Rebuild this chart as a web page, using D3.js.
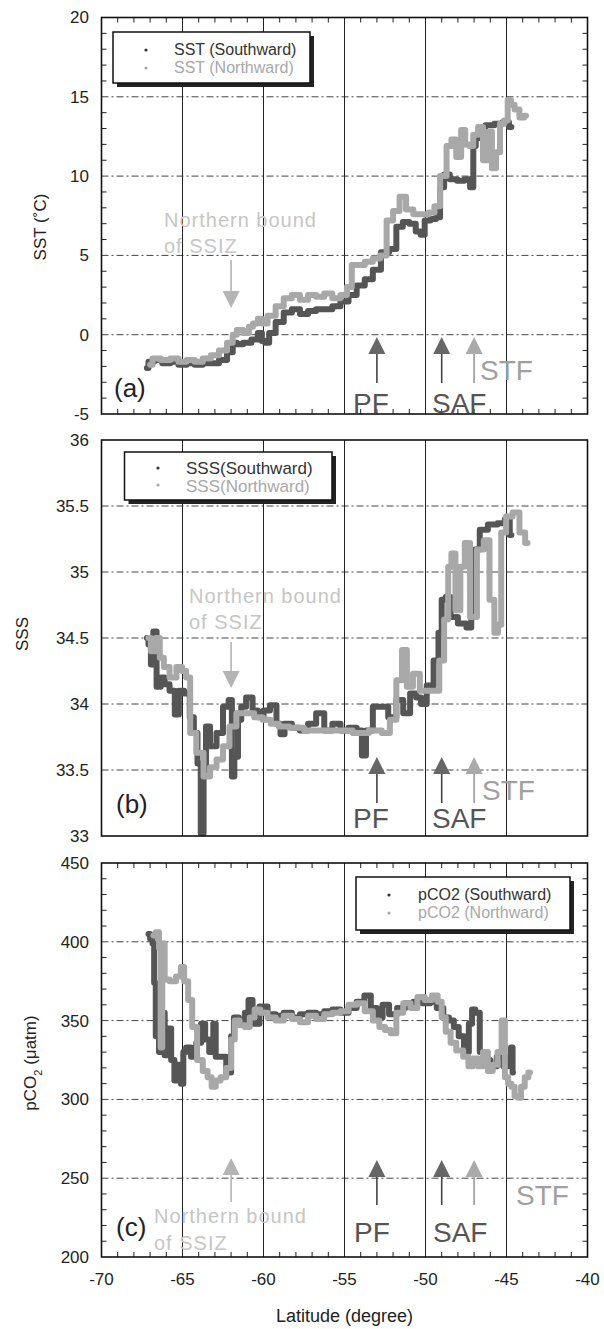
<!DOCTYPE html>
<html>
<head>
<meta charset="utf-8">
<script src="https://cdn.jsdelivr.net/npm/d3@7"></script>
<style>
  body { margin: 0; background: #fff; }
  svg text { font-family: "Liberation Sans", Arial, sans-serif; }
</style>
</head>
<body>
<div id="chart"></div>
<script>
// --- data ---
const latTicks = [-70, -65, -60, -55, -50, -45, -40];
const sstTicks = [-5, 0, 5, 10, 15, 20];
const sssTicks = [33, 33.5, 34, 34.5, 35, 35.5, 36];
const pco2Ticks = [200, 250, 300, 350, 400, 450];

const sstSouth = [[-67.2,-2.1],[-67.0,-1.7],[-66.5,-1.6],[-66.0,-1.8],[-65.5,-1.7],[-65.0,-1.9],[-64.5,-1.8],[-64.0,-1.9],[-63.5,-1.8],[-63.0,-1.8],[-62.5,-1.6],[-62.0,-1.1],[-61.8,-0.5],[-61.5,-0.6],[-61.0,-0.5],[-60.5,-0.3],[-60.2,0.1],[-60.0,-0.4],[-59.8,-0.5],[-59.5,0.1],[-59.0,0.8],[-58.5,1.4],[-58.0,1.6],[-57.5,1.3],[-57.0,1.5],[-56.5,1.6],[-56.0,1.6],[-55.5,1.8],[-55.0,2.1],[-54.5,2.5],[-54.0,3.1],[-53.5,3.5],[-53.0,4.1],[-52.5,5.2],[-52.0,5.4],[-51.6,6.8],[-51.2,7.1],[-50.8,7.0],[-50.4,6.5],[-50.2,6.3],[-49.9,7.2],[-49.5,7.3],[-49.2,7.4],[-49.0,9.3],[-48.7,10.1],[-48.3,9.8],[-47.8,9.7],[-47.4,9.8],[-47.1,9.3],[-47.0,11.9],[-46.8,12.4],[-46.6,13.1],[-46.0,13.2],[-45.5,13.3],[-45.0,13.4],[-44.7,13.1]];
const sstNorth = [[-67.0,-1.9],[-66.7,-1.5],[-66.0,-1.6],[-65.5,-1.5],[-65.0,-1.7],[-64.5,-1.6],[-64.0,-1.7],[-63.5,-1.5],[-63.0,-1.3],[-62.5,-1.0],[-62.0,-0.5],[-61.8,0.0],[-61.5,0.3],[-61.0,0.1],[-60.8,0.5],[-60.5,0.7],[-60.2,1.0],[-60.0,0.7],[-59.5,1.2],[-59.0,1.8],[-58.5,2.3],[-58.0,2.5],[-57.5,2.2],[-57.0,2.5],[-56.5,2.4],[-56.0,2.6],[-55.5,2.3],[-55.0,2.5],[-54.7,3.0],[-54.4,4.4],[-54.0,4.4],[-53.5,4.6],[-53.0,4.8],[-52.6,5.0],[-52.2,7.2],[-51.8,7.8],[-51.4,8.7],[-51.0,7.9],[-50.5,7.6],[-50.0,7.6],[-49.6,7.7],[-49.3,8.1],[-48.9,10.0],[-48.5,11.9],[-48.3,12.3],[-47.9,11.2],[-47.7,12.9],[-47.4,12.0],[-47.2,11.9],[-46.9,12.6],[-46.6,13.1],[-46.3,11.0],[-46.0,12.8],[-45.8,10.5],[-45.5,11.5],[-45.3,13.3],[-45.0,13.5],[-44.85,14.8],[-44.6,14.5],[-44.4,14.2],[-44.0,13.7],[-43.8,13.8]];

const sssSouth = [[-67.2,34.5],[-67.0,34.45],[-66.9,34.3],[-66.7,34.55],[-66.5,34.13],[-66.2,34.2],[-66.0,34.15],[-65.6,34.1],[-65.35,33.92],[-65.1,34.1],[-64.7,34.08],[-64.4,33.9],[-64.2,33.78],[-63.95,33.55],[-63.8,33.02],[-63.6,33.5],[-63.5,33.83],[-63.1,33.68],[-62.7,33.78],[-62.3,33.98],[-62.0,34.03],[-61.9,33.45],[-61.7,33.6],[-61.45,33.88],[-61.3,33.98],[-60.85,34.05],[-60.5,33.95],[-60.2,33.9],[-59.8,33.95],[-59.4,33.99],[-59.0,33.85],[-58.9,33.77],[-58.5,33.85],[-58.0,33.82],[-57.5,33.8],[-57.0,33.85],[-56.5,33.93],[-56.0,33.8],[-55.5,33.85],[-55.0,33.8],[-54.5,33.82],[-54.0,33.8],[-53.85,33.61],[-53.5,33.8],[-53.0,33.98],[-52.6,33.98],[-52.0,33.9],[-51.6,34.03],[-51.15,33.93],[-50.75,34.08],[-50.4,34.05],[-50.15,34.0],[-49.7,34.14],[-49.3,34.33],[-49.1,34.54],[-48.9,34.79],[-48.6,34.81],[-48.3,34.66],[-47.7,34.61],[-47.25,34.58],[-47.1,35.04],[-46.8,35.17],[-46.5,35.32],[-45.8,35.36],[-45.3,35.37],[-44.9,35.4],[-44.7,35.28]];
const sssNorth = [[-67.1,34.5],[-66.8,34.4],[-66.5,34.5],[-66.3,34.35],[-66.0,34.28],[-65.6,34.2],[-65.15,34.28],[-64.9,34.25],[-64.65,34.2],[-64.4,33.78],[-63.9,33.63],[-63.5,33.45],[-63.1,33.52],[-62.7,33.58],[-62.3,33.68],[-61.9,33.83],[-61.45,33.93],[-60.85,33.93],[-60.3,33.9],[-59.8,33.88],[-59.3,33.85],[-58.8,33.83],[-58.0,33.82],[-57.0,33.8],[-56.0,33.8],[-55.0,33.8],[-54.0,33.78],[-53.0,33.8],[-52.4,33.78],[-52.0,33.88],[-51.6,34.18],[-51.3,34.41],[-51.0,34.13],[-50.55,34.23],[-50.15,34.1],[-49.3,34.1],[-49.0,34.33],[-48.7,34.64],[-48.5,35.04],[-48.3,35.14],[-48.0,34.71],[-47.7,35.04],[-47.45,35.22],[-47.05,34.66],[-46.6,35.17],[-46.2,35.24],[-45.9,34.79],[-45.6,34.54],[-45.45,34.6],[-45.2,35.3],[-44.85,35.42],[-44.4,35.45],[-44.0,35.3],[-43.7,35.22]];

const pco2South = [[-67.1,405],[-66.9,402],[-66.8,399],[-66.7,374],[-66.6,340],[-66.5,365],[-66.4,330],[-66.2,355],[-66.0,328],[-65.8,345],[-65.6,325],[-65.4,312],[-65.2,322],[-65.0,310],[-64.9,330],[-64.65,333],[-64.3,327],[-64.0,336],[-63.7,348],[-63.5,338],[-63.2,330],[-63.0,348],[-62.9,327],[-62.5,327],[-62.1,317],[-61.9,340],[-61.75,352],[-61.3,350],[-61.0,355],[-60.85,363],[-60.5,348],[-60.0,359],[-59.5,354],[-59.0,353],[-58.5,355],[-58.0,352],[-57.5,354],[-57.0,355],[-56.5,354],[-56.0,356],[-55.5,357],[-55.0,355],[-54.5,358],[-54.0,362],[-53.55,366],[-53.2,358],[-52.8,352],[-52.5,360],[-52.0,354],[-51.5,358],[-51.0,361],[-50.5,362],[-49.9,361],[-49.5,362],[-49.1,358],[-48.7,352],[-48.4,350],[-48.1,346],[-47.8,340],[-47.45,330],[-47.2,348],[-47.05,357],[-46.8,355],[-46.5,330],[-46.2,325],[-45.8,321],[-45.4,327],[-45.0,321],[-44.8,327],[-44.65,333],[-44.6,317]];
const pco2North = [[-66.8,404],[-66.5,406],[-66.4,396],[-66.3,333],[-66.2,399],[-66.0,376],[-65.6,375],[-65.2,378],[-65.0,384],[-64.8,375],[-64.5,363],[-64.3,346],[-63.9,325],[-63.6,318],[-63.3,314],[-63.1,308],[-62.8,312],[-62.5,314],[-62.1,320],[-61.9,338],[-61.65,350],[-61.3,347],[-61.0,346],[-60.7,352],[-60.4,357],[-60.0,355],[-59.5,352],[-59.0,350],[-58.5,353],[-58.0,351],[-57.5,349],[-57.0,353],[-56.5,351],[-56.0,354],[-55.5,355],[-55.0,356],[-54.5,360],[-54.0,361],[-53.5,356],[-53.0,350],[-52.7,346],[-52.3,344],[-52.0,342],[-51.6,355],[-51.15,361],[-50.7,358],[-50.3,365],[-49.8,363],[-49.4,366],[-49.1,362],[-48.9,352],[-48.6,343],[-48.3,336],[-47.9,331],[-47.45,327],[-47.25,321],[-46.9,326],[-46.6,321],[-46.3,330],[-46.0,318],[-45.7,322],[-45.4,330],[-45.2,350],[-45.0,314],[-44.8,310],[-44.6,308],[-44.4,302],[-44.2,301],[-44.0,308],[-43.75,314],[-43.55,317]];

const frontLats = { SSIZ: -62, PF: -53, SAF: -49, STF: -47 };

const DARK = '#555';
const LIGHT = '#a8a8a8';

const svg = d3.select('#chart').append('svg')
    .attr('width', 604)
    .attr('height', 1329);

const x = d3.scaleLinear().domain([-70, -40]).range([101.5, 587.5]);

function drawArrow(g, xp, yTip, yEnd, headColor, shaftColor) {
    // up arrow if yTip < yEnd, down arrow otherwise
    const dir = yTip < yEnd ? 1 : -1;
    const headLen = 17, half = 8.5;
    g.append('line')
        .attr('x1', xp).attr('x2', xp)
        .attr('y1', yTip + dir * headLen).attr('y2', yEnd)
        .attr('stroke', shaftColor).attr('stroke-width', 1.6);
    g.append('polygon')
        .attr('points', `${xp},${yTip} ${xp - half},${yTip + dir * headLen} ${xp + half},${yTip + dir * headLen}`)
        .attr('fill', headColor);
}

function drawPanel(p) {
    const y = d3.scaleLinear().domain(p.domain).range(p.range);
    const g = svg.append('g');
    const [x0, x1] = x.range();
    const yTop = p.range[1], yBot = p.range[0];

    // horizontal dashed grid
    g.selectAll('line.hgrid').data(p.ticks.slice(1, -1)).enter().append('line')
        .attr('class', 'hgrid')
        .attr('x1', x0).attr('x2', x1)
        .attr('y1', (d) => y(d)).attr('y2', (d) => y(d))
        .attr('stroke', '#444').attr('stroke-width', 1)
        .attr('stroke-dasharray', '7,3,2,3');
    // vertical solid grid
    g.selectAll('line.vgrid').data(latTicks.slice(1, -1)).enter().append('line')
        .attr('class', 'vgrid')
        .attr('x1', (d) => x(d)).attr('x2', (d) => x(d))
        .attr('y1', yTop).attr('y2', yBot)
        .attr('stroke', '#222').attr('stroke-width', 1);

    // minor ticks
    if (p.minor) {
        const xm = d3.range(-69, -40, 1).filter((d) => d % 5 !== 0);
        xm.forEach((d) => {
            g.append('line').attr('x1', x(d)).attr('x2', x(d)).attr('y1', yBot).attr('y2', yBot - 5).attr('stroke', '#222');
            g.append('line').attr('x1', x(d)).attr('x2', x(d)).attr('y1', yTop).attr('y2', yTop + 5).attr('stroke', '#222');
        });
        const ym = d3.range(p.domain[0] + p.minor, p.domain[1], p.minor)
            .filter((d) => !p.ticks.includes(Math.round(d * 100) / 100));
        ym.forEach((d) => {
            g.append('line').attr('x1', x0).attr('x2', x0 + 5).attr('y1', y(d)).attr('y2', y(d)).attr('stroke', '#222');
            g.append('line').attr('x1', x1).attr('x2', x1 - 5).attr('y1', y(d)).attr('y2', y(d)).attr('stroke', '#222');
        });
    }

    // data (dense shipboard records -> drawn as thick stepped traces)
    const line = d3.line().x((d) => x(d[0])).y((d) => y(d[1])).curve(d3.curveStep);
    [[p.south, DARK], [p.north, LIGHT]].forEach(([data, color]) => {
        g.append('path')
            .datum(data)
            .attr('d', line)
            .attr('fill', 'none')
            .attr('stroke', color)
            .attr('stroke-width', 6)
            .attr('stroke-linejoin', 'round')
            .attr('stroke-linecap', 'round');
    });

    // frame
    g.append('rect')
        .attr('x', x0).attr('y', yTop)
        .attr('width', x1 - x0).attr('height', yBot - yTop)
        .attr('fill', 'none').attr('stroke', '#111').attr('stroke-width', 1.6);

    // y tick labels
    g.selectAll('text.ytick').data(p.ticks).enter().append('text')
        .attr('class', 'ytick')
        .attr('x', 89)
        .attr('y', (d) => y(d))
        .attr('dy', '0.35em')
        .attr('text-anchor', 'end')
        .attr('font-size', '17px')
        .attr('fill', '#222')
        .text((d) => String(d));

    // y title
    const title = g.append('text')
        .attr('transform', `translate(${p.titleX}, ${p.titleY}) rotate(-90)`)
        .attr('text-anchor', 'middle')
        .attr('dy', '0.35em')
        .attr('font-size', '17px')
        .attr('fill', '#222');
    p.title.forEach(([t, sub]) => {
        const ts = title.append('tspan').text(t);
        if (sub) ts.attr('baseline-shift', 'sub').attr('font-size', '11px');
    });

    // legend
    const L = p.legend;
    g.append('rect').attr('x', L.x + 4).attr('y', L.y + 4).attr('width', L.w).attr('height', L.h).attr('fill', '#222');
    g.append('rect').attr('x', L.x).attr('y', L.y).attr('width', L.w).attr('height', L.h)
        .attr('fill', '#fff').attr('stroke', '#111').attr('stroke-width', 1.5);
    L.items.forEach((item, i) => {
        g.append('circle').attr('cx', L.dotX).attr('cy', L.dotY[i]).attr('r', 1.6).attr('fill', i === 0 ? '#333' : LIGHT);
        g.append('text')
            .attr('x', L.textX).attr('y', L.base[i])
            .attr('font-family', L.font)
            .attr('font-size', L.size)
            .attr('fill', i === 0 ? '#333' : LIGHT)
            .text(item);
    });

    // panel letter
    g.append('text')
        .attr('x', p.letter[1]).attr('y', p.letter[2])
        .attr('font-family', '"Liberation Serif", "Times New Roman", serif')
        .attr('font-size', '26px')
        .attr('fill', '#222')
        .text(p.letter[0]);

    // Northern bound of SSIZ
    p.ssiz.text.forEach(([t, tx, ty]) => {
        g.append('text')
            .attr('x', tx).attr('y', ty)
            .attr('font-family', '"DejaVu Sans", sans-serif')
            .attr('font-size', '20px')
            .attr('letter-spacing', '1px')
            .attr('fill', '#c6c6c6')
            .text(t);
    });
    drawArrow(g, x(frontLats.SSIZ), p.ssiz.tip, p.ssiz.end, '#b4b4b4', '#b4b4b4');

    // fronts
    [['PF', '#666', '#444'], ['SAF', '#666', '#444'], ['STF', '#aaa', '#999']].forEach(([name, head, shaft]) => {
        drawArrow(g, x(frontLats[name]), p.fronts.tip, p.fronts.end, head, shaft);
    });
    p.frontText.forEach(([t, tx, ty, color]) => {
        g.append('text')
            .attr('x', tx).attr('y', ty)
            .attr('font-size', '28px')
            .attr('fill', color)
            .text(t);
    });
    return g;
}

drawPanel({
    domain: [-5, 20], range: [414, 17.5], ticks: sstTicks, minor: 1,
    south: sstSouth, north: sstNorth,
    title: [['SST (˚C)']], titleX: 40, titleY: 227,
    legend: { x: 113, y: 32, w: 197, h: 51, dotX: 146, dotY: [50, 68], textX: 174, base: [55, 73],
        font: '"Open Sans", sans-serif', size: '16px', items: ['SST (Southward)', 'SST (Northward)'] },
    letter: ['(a)', 114, 397],
    ssiz: { text: [['Northern bound', 164, 227], ['of SSIZ', 164, 253]], tip: 308, end: 260 },
    fronts: { tip: 337, end: 383 },
    frontText: [['PF', 353, 413, '#555'], ['SAF', 432, 413, '#555'], ['STF', 480, 380, '#a0a0a0']]
});

drawPanel({
    domain: [33, 36], range: [836, 440], ticks: sssTicks, minor: null,
    south: sssSouth, north: sssNorth,
    title: [['SSS']], titleX: 22, titleY: 634,
    legend: { x: 124.5, y: 452, w: 207.5, h: 48, dotX: 158, dotY: [468, 485], textX: 186, base: [474, 492],
        font: '"Liberation Sans", Arial, sans-serif', size: '17px', items: ['SSS(Southward)', 'SSS(Northward)'] },
    letter: ['(b)', 116, 813],
    ssiz: { text: [['Northern bound', 189, 603], ['of SSIZ', 189, 629]], tip: 688, end: 642 },
    fronts: { tip: 757, end: 803 },
    frontText: [['PF', 353, 828, '#555'], ['SAF', 432, 828, '#555'], ['STF', 482, 800, '#a0a0a0']]
});

drawPanel({
    domain: [200, 450], range: [1257, 863], ticks: pco2Ticks, minor: 10,
    south: pco2South, north: pco2North,
    title: [['pCO'], ['2', true], [' (μatm)']], titleX: 30, titleY: 1063,
    legend: { x: 356, y: 877, w: 214, h: 53, dotX: 389, dotY: [895, 913], textX: 418, base: [900, 918],
        font: '"Open Sans", sans-serif', size: '16px', items: ['pCO2 (Southward)', 'pCO2 (Northward)'] },
    letter: ['(c)', 116, 1236],
    ssiz: { text: [['Northern bound', 154, 1223], ['of SSIZ', 154, 1250]], tip: 1158, end: 1202 },
    fronts: { tip: 1160, end: 1205 },
    frontText: [['PF', 354, 1242, '#555'], ['SAF', 433, 1242, '#555'], ['STF', 516, 1205, '#a0a0a0']]
});

// x axis labels (bottom panel only)
svg.append('g').selectAll('text').data(latTicks).enter().append('text')
    .attr('x', (d) => x(d))
    .attr('y', 1285)
    .attr('text-anchor', 'middle')
    .attr('font-size', '17px')
    .attr('fill', '#222')
    .text((d) => String(d));

svg.append('text')
    .attr('x', 344.5)
    .attr('y', 1322)
    .attr('text-anchor', 'middle')
    .attr('font-size', '18px')
    .attr('fill', '#222')
    .text('Latitude (degree)');
</script>
</body>
</html>
